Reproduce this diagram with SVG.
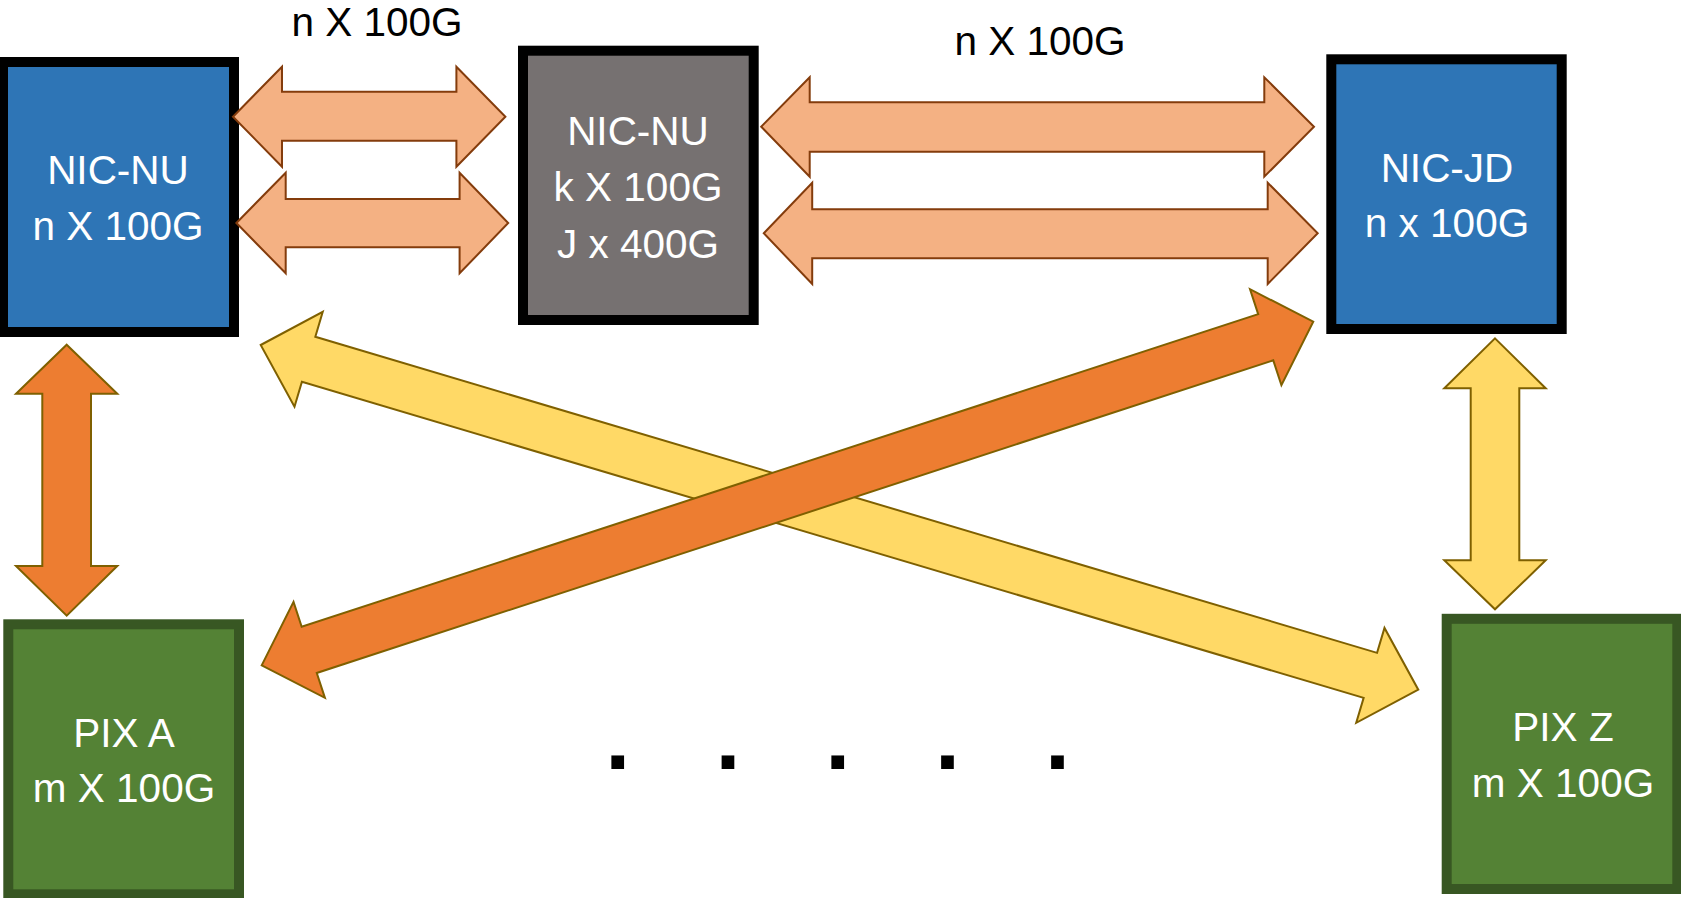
<svg xmlns="http://www.w3.org/2000/svg" width="1681" height="898" viewBox="0 0 1681 898">
<style>
.lbl{font-family:"Liberation Sans",Arial,sans-serif;font-size:40.5px;text-anchor:middle}
.w{fill:#FFFFFF}
.k{fill:#000000}
.blue{fill:#2E75B6;stroke:#000000;stroke-width:10}
.gray{fill:#767171;stroke:#000000;stroke-width:10}
.green{fill:#548235;stroke:#385723;stroke-width:10}
.peach{fill:#F4B183;stroke:#843C0C;stroke-width:2}
.orange{fill:#ED7D31;stroke:#7F6000;stroke-width:2}
.yellow{fill:#FFD966;stroke:#7F6000;stroke-width:2}
.dots{font-family:"Liberation Sans",Arial,sans-serif;font-size:90px;font-weight:bold;fill:#000000}
</style>
<rect width="1681" height="898" fill="#FFFFFF"/>
<g id="node-nic-nu-left">
<rect class="blue" x="3" y="62" width="231" height="270"/>
<text class="lbl w" x="118" y="184">NIC-NU</text>
<text class="lbl w" x="118" y="240">n X 100G</text>
</g>
<g id="node-nic-nu-mid">
<rect class="gray" x="523" y="50.7" width="230.7" height="269.3"/>
<text class="lbl w" x="638" y="145">NIC-NU</text>
<text class="lbl w" x="638" y="201">k X 100G</text>
<text class="lbl w" x="638" y="258">J x 400G</text>
</g>
<g id="node-nic-jd">
<rect class="blue" x="1331.3" y="59.3" width="230.4" height="269.7"/>
<text class="lbl w" x="1447" y="182">NIC-JD</text>
<text class="lbl w" x="1447" y="237">n x 100G</text>
</g>
<g id="node-pix-a">
<rect class="green" x="8.3" y="624.3" width="230.7" height="270"/>
<text class="lbl w" x="124" y="747">PIX A</text>
<text class="lbl w" x="124" y="802">m X 100G</text>
</g>
<g id="node-pix-z">
<rect class="green" x="1446.7" y="618.8" width="230.6" height="270.2"/>
<text class="lbl w" x="1563" y="741">PIX Z</text>
<text class="lbl w" x="1563" y="797">m X 100G</text>
</g>
<g id="labels">
<text class="lbl k" x="377" y="36">n X 100G</text>
<text class="lbl k" x="1040" y="55">n X 100G</text>
<text class="dots" x="605.2 715.4 825.2 935 1044.9" y="769">.....</text>
</g>
<g id="connectors">
<polygon class="peach" points="233,116.7 282,66.7 282,91.7 456.4,91.7 456.4,66.7 505.4,116.7 456.4,166.7 456.4,140.7 282,140.7 282,166.7"/>
<polygon class="peach" points="236.4,223 285.7,172.7 285.7,199 459.6,199 459.6,172.7 508.2,223 459.6,273.3 459.6,247.3 285.7,247.3 285.7,273.3"/>
<polygon class="peach" points="761.2,126.7 809.7,77.3 809.7,102.3 1264.3,102.3 1264.3,77.3 1314,126.7 1264.3,176.7 1264.3,151.7 809.7,151.7 809.7,176.7"/>
<polygon class="peach" points="763.8,233.3 812.2,182.7 812.2,209.3 1267.7,209.3 1267.7,182.7 1317.7,233.3 1267.7,284 1267.7,258.3 812.2,258.3 812.2,284"/>
<polygon class="orange" points="66.7,344.7 117.3,393.7 91,393.7 91,565.9 117.3,565.9 66.7,615.6 16,565.9 42.3,565.9 42.3,393.7 16,393.7"/>
<polygon class="yellow" points="1495,338.4 1545.7,388.2 1519.3,388.2 1519.3,560.3 1545.7,560.3 1495,609.3 1444.3,560.3 1470.7,560.3 1470.7,388.2 1444.3,388.2"/>
<polygon class="yellow" transform="translate(260.7,345) rotate(16.58)" points="0,0 50,-49.5 50,-23.5 1157.8,-23.5 1157.8,-49.5 1207.8,0 1157.8,49.5 1157.8,23.5 50,23.5 50,49.5"/>
<polygon class="orange" transform="translate(261.7,665.4) rotate(-18.1)" points="0,0 50,-50.5 50,-24.3 1056.3,-24.3 1056.3,-50.5 1106.3,0 1056.3,50.5 1056.3,24.3 50,24.3 50,50.5"/>
</g>
</svg>
